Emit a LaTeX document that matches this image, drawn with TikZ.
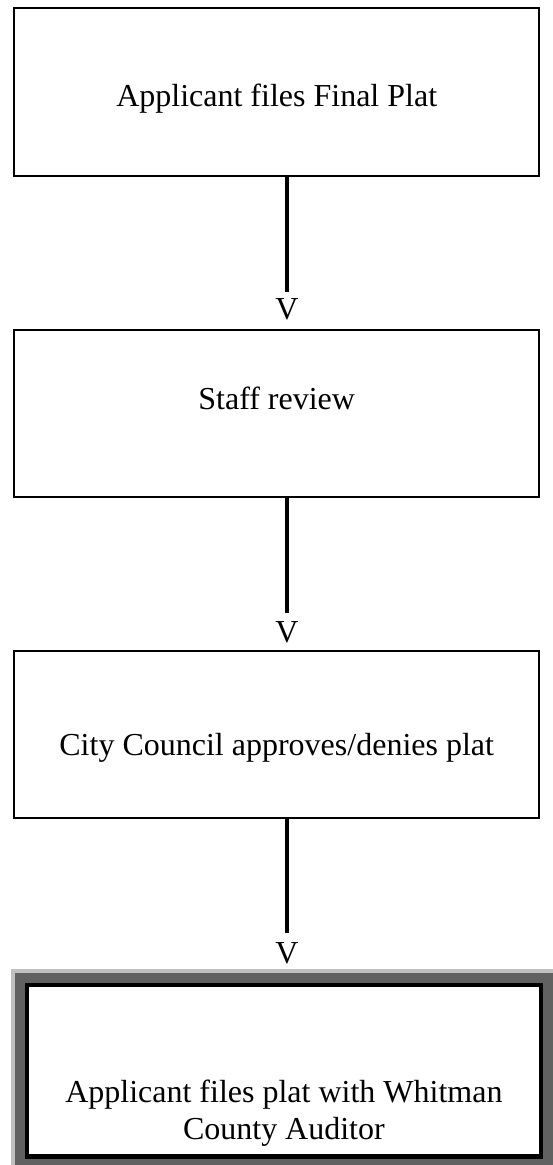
\documentclass[tikz,border=0pt]{standalone}
\usepackage{fontspec}
\setmainfont{Liberation Serif}
\usetikzlibrary{positioning, backgrounds}

\begin{document}
\begin{tikzpicture}[
        x=1pt, y=-1pt,
        every node/.style={font=\fontsize{32}{37}\selectfont},
        stepbox/.style={draw, line width=2pt, minimum width=525pt, minimum height=167pt, align=center, inner sep=0pt},
        link/.style={line width=4.3pt},
        vmark/.style={inner sep=0pt}
        ]
        \useasboundingbox (0,0) rectangle (553,1165);

        % Boxes
        \node[stepbox, minimum height=168.5pt, text height=29pt, text depth=0pt] (files) at (276.7,91.8) {Applicant files Final Plat};
        \node[stepbox, text height=0pt, text depth=8pt] (review) at (276.7,413.5) {Staff review};
        \node[stepbox, text height=41pt, text depth=0pt] (council) at (276.7,734.5) {City Council approves/denies plat};
        \node[stepbox, line width=4.3pt, minimum width=513.8pt, minimum height=171.2pt, fill=white] (auditor) at (283.9,1070.9) {};
        \node[align=center] (auditortext) at ([yshift=-42pt]auditor.center) {Applicant files plat with Whitman\\County Auditor};

        % Frame round the last box
        \begin{scope}[on background layer]
          \fill[black!25] ([xshift=-14pt,yshift=14pt]auditor.north west) rectangle ([xshift=14pt,yshift=-14pt]auditor.south east);
          \fill[black!62] ([xshift=-10pt,yshift=10pt]auditor.north west) rectangle ([xshift=10pt,yshift=-10pt]auditor.south east);
        \end{scope}

        % Links
        \coordinate (end1) at (287,292);
        \coordinate (end2) at (287,612.5);
        \coordinate (end3) at (287,933);
        \draw[link] (end1 |- files.south) -- (end1);
        \draw[link] (end2 |- review.south) -- (end2);
        \draw[link] (end3 |- council.south) -- (end3);
        \node[vmark, below=6pt of end1] (v1) {V};
        \node[vmark, below=9pt of end2] (v2) {V};
        \node[vmark, below=9pt of end3] (v3) {V};

\end{tikzpicture}
\end{document}
